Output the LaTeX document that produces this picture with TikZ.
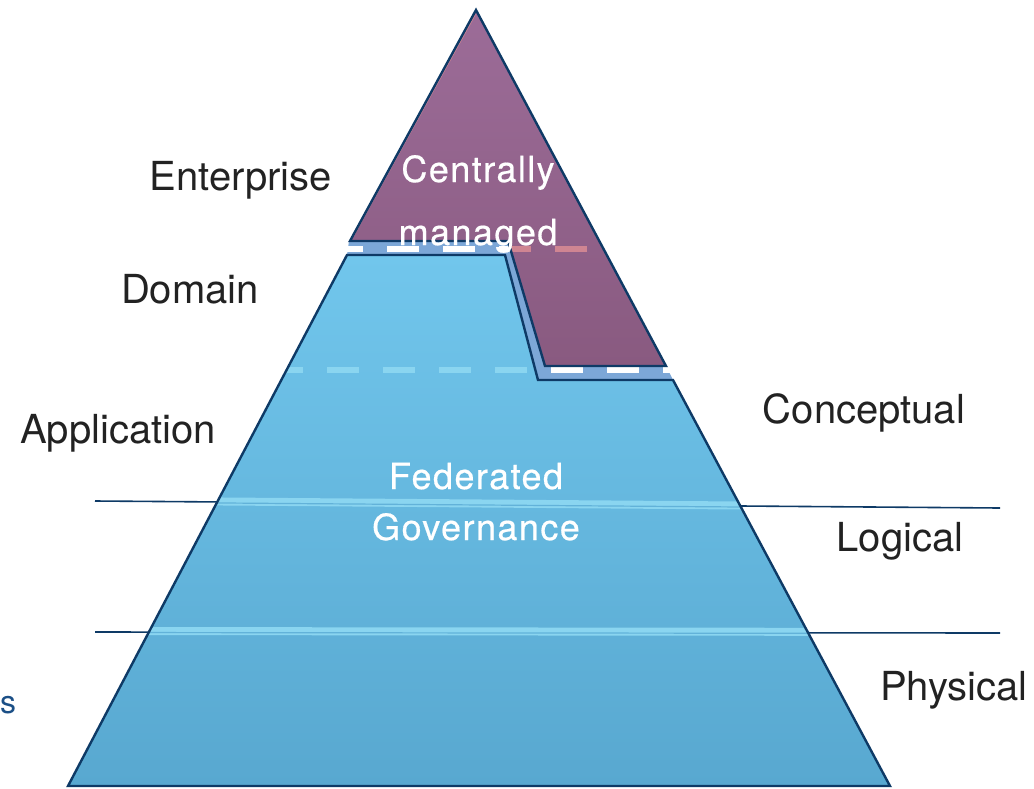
\documentclass[tikz,border=0pt]{standalone}
\usepackage{fontspec}
\setmainfont{TeX Gyre Heros}
\definecolor{pyline}{HTML}{0E3A66}
\definecolor{pybluetop}{HTML}{71C6EC}
\definecolor{pybluebot}{HTML}{58A8D0}
\definecolor{pypurptop}{HTML}{9C6C98}
\definecolor{pypurpbot}{HTML}{895A80}
\definecolor{pyband}{HTML}{7CA7D7}
\definecolor{pypink}{HTML}{CF8592}
\definecolor{pylight}{HTML}{8AD5F0}
\definecolor{pyseam}{HTML}{62B2D9}
\definecolor{lvltext}{HTML}{222222}
\definecolor{lvlblue}{HTML}{1B4F86}
\begin{document}
\begin{tikzpicture}[
  x=0.5pt, y=-0.5pt,
  lvl/.style={font=\fontsize{20}{24}\selectfont, text=lvltext, anchor=base, inner sep=0pt},
  inlbl/.style={font=\fontsize{18}{22}\selectfont\addfontfeatures{LetterSpace=4,FakeBold=0.5},
                text=white, anchor=base, inner sep=0pt},
  rim/.style={draw=pyline, line width=1.2pt, line join=miter},
  tick/.style={draw=pyline, line width=0.8pt},
  stripe/.style={draw=pylight, line width=4pt},
  gap/.style={dash pattern=on 16pt off 12pt, line width=3pt}
]
\useasboundingbox (0,0) rectangle (1034,788);

% Level separators behind the pyramid
\draw[tick] (95,501) -- (1000,508);
\draw[tick] (95,632) -- (1000,633);

% Band between the two regions
\fill[pyband] (347,255) -- (349,241) -- (508,241) -- (545,366) -- (666,366)
  -- (673,380) -- (538,380) -- (505,255) -- cycle;

% Federated part (lower)
\path[top color=pybluetop, bottom color=pybluebot]
  (347,255) -- (505,255) -- (538,380) -- (673,380) -- (890,786) -- (68,786) -- cycle;

% Centrally managed part (apex)
\path[top color=pypurptop, bottom color=pypurpbot]
  (476,10) -- (350,241) -- (508,241) -- (545,366) -- (666,366) -- cycle;

% Light stripes where the separators cross
\begin{scope}
  \clip (347,255) -- (505,255) -- (538,380) -- (673,380) -- (890,786) -- (68,786) -- cycle;
  \draw[stripe] (95,500.5) -- (1000,507.5);
  \draw[pyseam, line width=0.6pt] (95,502) -- (1000,509);
  \draw[stripe] (95,631) -- (1000,632);
  \draw[pyseam, line width=0.6pt] (95,632.5) -- (1000,633.5);
\end{scope}

% Dashed level lines
\draw[gap, white] (331,249) -- (600,249);
\draw[gap, white] (271,370) -- (680,370);
\begin{scope}
  \clip (476,10) -- (350,241) -- (508,241) -- (545,366) -- (666,366) -- cycle;
  \draw[gap, pypink] (331,249) -- (600,249);
\end{scope}
\begin{scope}
  \clip (347,255) -- (505,255) -- (538,380) -- (673,380) -- (890,786) -- (68,786) -- cycle;
  \draw[gap, pylight] (271,370) -- (680,370);
\end{scope}

% Outlines
\draw[pypink, line width=1pt] (353,236) -- (475,14);
\draw[rim] (476,10) -- (350,241) -- (508,241) -- (545,366) -- (666,366) -- cycle;
\draw[rim] (347,255) -- (505,255) -- (538,380) -- (673,380) -- (890,786) -- (68,786) -- cycle;

% Region texts
\node[inlbl] (central1) at (478,182) {Centrally};
\node[inlbl] (central2) at (478,245) {managed};
\node[inlbl] (fed1) at (476,489) {Federated};
\node[inlbl] (fed2) at (476,540) {Governance};

% Level labels
\node[lvl] (enterprise) at (241,190) {Enterprise};
\node[lvl] (domain) at (190,303) {Domain};
\node[lvl] (application) at (118,443) {Application};
\node[lvl] (conceptual) at (864,423) {Conceptual};
\node[lvl] (logical) at (900,551) {Logical};
\node[lvl] (physical) at (954,700) {Physical};
\node[lvl, text=lvlblue, font=\fontsize{16}{20}\selectfont] (cut) at (8,713) {s};
\end{tikzpicture}
\end{document}
